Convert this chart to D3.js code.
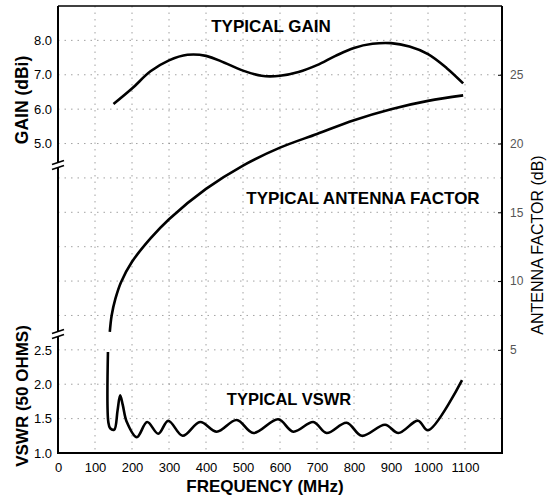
<!DOCTYPE html>
<html><head><meta charset="utf-8">
<script src="https://cdn.jsdelivr.net/npm/d3@7"></script>
<style>body{margin:0;background:#fff}svg{display:block}text{font-family:"Liberation Sans",Arial,sans-serif}</style>
</head><body>
<svg id="c" width="547" height="496"></svg>
<script>
// ---- data ----
const freqTicks = [0,100,200,300,400,500,600,700,800,900,1000,1100];
const gainTicks = [5.0,6.0,7.0,8.0];
const vswrTicks = [1.0,1.5,2.0,2.5];
const afTicks = [5,10,15,20,25];

const gainFreq = [150,200,250,300,350,400,450,500,550,600,650,700,750,800,850,900,950,1000,1050,1095];
const gainVal  = [6.15,6.6,7.1,7.42,7.58,7.55,7.35,7.12,6.97,6.97,7.08,7.28,7.55,7.78,7.9,7.92,7.82,7.6,7.2,6.75];

const afFreq = [140,145,155,170,200,250,300,400,500,600,700,800,900,1000,1095];
const afVal  = [6.3,7.5,8.7,9.9,11.4,13.1,14.5,16.7,18.4,19.7,20.7,21.7,22.5,23.1,23.5];

const vswrFreq = [135,136,141,152,161,168,175,186,213,241,271,298,337,384,429,483,528,595,636,690,726,780,821,884,920,973,1000,1092];
const vswrVal  = [2.47,1.45,1.36,1.34,1.62,1.84,1.7,1.45,1.23,1.45,1.28,1.47,1.25,1.45,1.31,1.48,1.29,1.49,1.31,1.45,1.29,1.44,1.25,1.41,1.29,1.47,1.33,2.06];

// ---- layout ----
const L=58, R=502, T=6, B=453;
const svg=d3.select("#c");
const x=d3.scaleLinear().domain([0,1200]).range([L,R]);
const unit=(B-T)/13;
const yGain=d3.scaleLinear().domain([9,8]).range([T,T+unit]);
const yAF=d3.scaleLinear().domain([-2.5,30]).range([B,T]);
const yV=d3.scaleLinear().domain([1,1.5]).range([B,B-unit]);

// grid
const grid=svg.append("g").attr("stroke","#8a8a8a").attr("stroke-width",0.8).attr("stroke-dasharray","1.5,5");
d3.range(100,1200,100).forEach(f=>grid.append("line").attr("x1",x(f)).attr("x2",x(f)).attr("y1",T).attr("y2",B));
d3.range(1,13).forEach(k=>grid.append("line").attr("x1",L).attr("x2",R).attr("y1",B-k*unit).attr("y2",B-k*unit));

// frame
const fr=svg.append("g").attr("stroke","#000");
fr.append("line").attr("x1",L).attr("x2",R).attr("y1",T).attr("y2",T).attr("stroke-width",1.3);
fr.append("line").attr("x1",L-1).attr("x2",R+1).attr("y1",B).attr("y2",B).attr("stroke-width",2.2);
fr.append("line").attr("x1",L).attr("x2",L).attr("y1",T).attr("y2",B).attr("stroke-width",2);
fr.append("line").attr("x1",R).attr("x2",R).attr("y1",T).attr("y2",B).attr("stroke-width",2);

// axes
const ax=svg.append("g").attr("transform",`translate(0,${B})`)
  .call(d3.axisBottom(x).tickValues(freqTicks).tickFormat(d3.format("d")).tickSize(0).tickPadding(10));
ax.select(".domain").remove();
ax.selectAll("text").attr("font-size",13).attr("fill","#000");

const ag=svg.append("g").attr("transform",`translate(${L},0)`)
  .call(d3.axisLeft(yGain).tickValues(gainTicks).tickFormat(d3.format(".1f")).tickSize(0).tickPadding(6));
ag.select(".domain").remove(); ag.selectAll("text").attr("font-size",13).attr("fill","#000");

const av=svg.append("g").attr("transform",`translate(${L},0)`)
  .call(d3.axisLeft(yV).tickValues(vswrTicks).tickFormat(d3.format(".1f")).tickSize(0).tickPadding(6));
av.select(".domain").remove(); av.selectAll("text").attr("font-size",13).attr("fill","#000");

const aa=svg.append("g").attr("transform",`translate(${R},0)`)
  .call(d3.axisRight(yAF).tickValues(afTicks).tickSize(-4).tickPadding(8));
aa.select(".domain").remove(); aa.selectAll("text").attr("font-size",12).attr("fill","#555");
aa.selectAll("line").attr("stroke","#000");

// axis breaks
[165,334].forEach(yb=>{
  svg.append("rect").attr("x",L-3).attr("y",yb-3).attr("width",6).attr("height",6).attr("fill","#fff");
  [-2.5,2.5].forEach(o=>svg.append("line").attr("x1",L-6).attr("x2",L+6).attr("y1",yb+o+2).attr("y2",yb+o-2)
    .attr("stroke","#000").attr("stroke-width",1.6));
});

// curves
const line=(xs,ys,ysc)=>d3.line().curve(d3.curveCatmullRom.alpha(0.5)).x((d,i)=>x(xs[i])).y((d,i)=>ysc(ys[i]))(xs);
const cs=svg.append("g").attr("fill","none").attr("stroke","#000").attr("stroke-width",2.6).attr("stroke-linejoin","round");
cs.append("path").attr("d",line(gainFreq,gainVal,yGain));
cs.append("path").attr("d",line(afFreq,afVal,yAF));
cs.append("path").attr("d",line(vswrFreq,vswrVal,yV));

// labels
const bold=(t,xx,yy,fs,rot)=>svg.append("text").text(t).attr("font-weight","bold").attr("font-size",fs)
  .attr("text-anchor","middle").attr("transform",`translate(${xx},${yy})`+(rot?` rotate(${rot})`:""));
bold("TYPICAL GAIN",271,32,17);
bold("TYPICAL ANTENNA FACTOR",363,204,17);
bold("TYPICAL VSWR",289,405,16.5);
bold("GAIN (dBi)",28,100,17.5,-90);
bold("VSWR (50 OHMS)",28,396,17,-90);
bold("FREQUENCY (MHz)",265,492,17);
svg.append("text").text("ANTENNA FACTOR (dB)").attr("font-size",16).attr("text-anchor","middle")
  .attr("transform","translate(543,245) rotate(-90)");
</script>
</body></html>
